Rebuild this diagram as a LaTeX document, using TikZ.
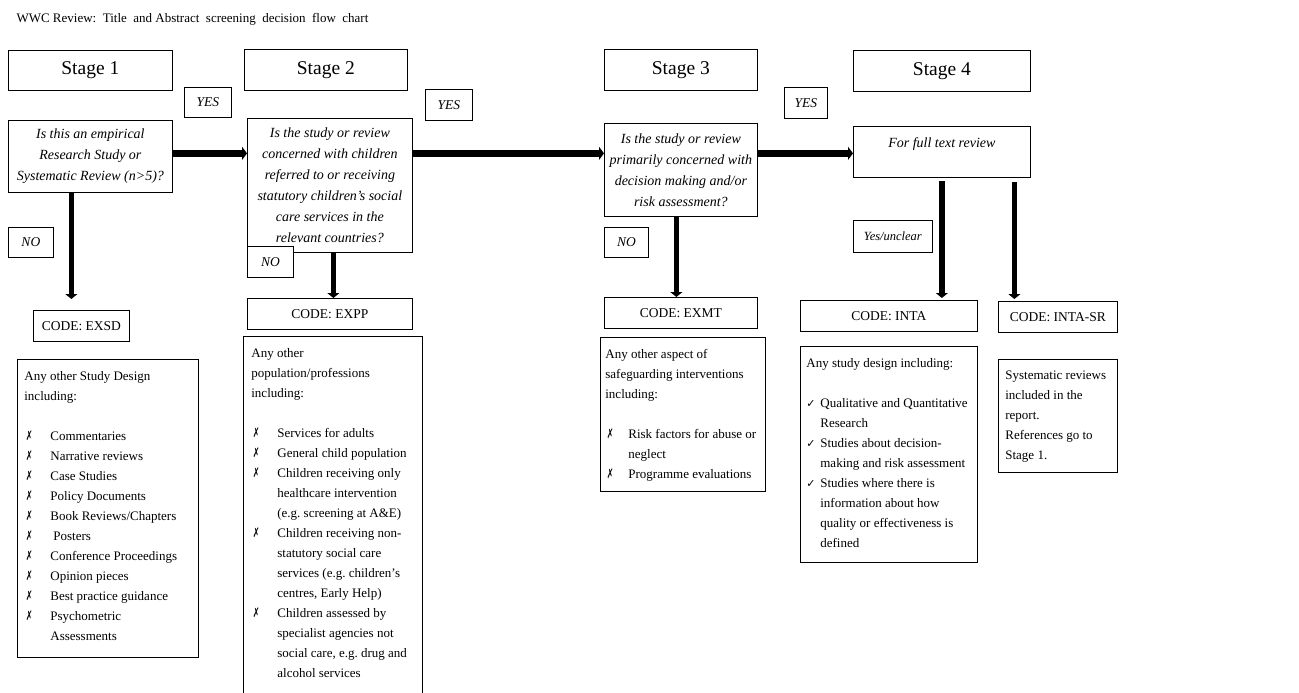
\documentclass[tikz,border=0pt]{standalone}
\usepackage{fontspec}
\setmainfont{Liberation Serif}
\newfontfamily\symfont{DejaVu Sans}
\usetikzlibrary{arrows.meta}
\frenchspacing

\newcommand{\xmark}{{\symfont\fontsize{12.5}{12.5}\selectfont\scalebox{0.65}[1.05]{✗}}}
\newcommand{\cmark}{{\symfont\fontsize{11}{11}\selectfont ✓}}
\newcommand{\xitem}[2][26pt]{\par\hangindent=#1\hangafter=1\noindent\makebox[#1][l]{\hspace{1.5pt}\xmark}#2}
\newcommand{\citem}[1]{\par\hangindent=14pt\hangafter=1\noindent\makebox[14pt][l]{\cmark}#1}
\newcommand{\listtext}[3]{\parbox[t][#2][t]{#1}{\fontsize{13}{20}\selectfont\raggedright #3}}

\tikzset{
  dims/.style 2 args={minimum width=#1pt, minimum height=#2pt},
  frame/.style={draw, fill=white, line width=0.75pt, anchor=north west, inner sep=0pt},
  stagebox/.style={frame, font=\fontsize{19.5}{22}\selectfont},
  qbox/.style={frame, align=center, font=\fontsize{14}{21}\selectfont\itshape},
  tagbox/.style={frame, font=\fontsize{13.5}{16}\selectfont\itshape},
  codebox/.style={frame, font=\fontsize{13.5}{16}\selectfont},
  listbox/.style={frame, inner xsep=#1pt, inner ysep=12pt},
  harr/.style={line width=6.5pt, -{Triangle[length=5pt,width=13pt]}},
  varr/.style={line width=5.5pt, -{Triangle[length=5pt,width=12pt]}}
}

\begin{document}
\begin{tikzpicture}[x=1pt, y=-1pt]
  \path[fill=white, use as bounding box] (0,0) rectangle (1299,693);

  \node[anchor=base west, font=\fontsize{13}{15}\selectfont] (title) at (13,23)
    {WWC Review:\ \ Title\ \ and Abstract\ \ screening\ \ decision\ \ flow\ \ chart};

  % stage headings
  \node[stagebox, dims={164}{40}] (st1) at (8,50) {Stage 1};
  \node[stagebox, dims={163}{41}] (st2) at (244,49) {Stage 2};
  \node[stagebox, dims={153}{41}] (st3) at (604,49) {Stage 3};
  \node[stagebox, dims={177}{41}] (st4) at (853,50) {Stage 4};

  % questions
  \node[qbox, dims={164}{72}] (q1) at (8,120)
    {Is this an empirical\\Research Study or\\Systematic Review (n>5)?};
  \node[qbox, dims={165}{134}] (q2) at (247,118)
    {Is the study or review\\concerned with children\\referred to or receiving\\statutory children’s social\\care services in the\\relevant countries?};
  \node[qbox, dims={153}{93}] (q3) at (604,123)
    {Is the study or review\\primarily concerned with\\decision making and/or\\risk assessment?};
  \node[frame, inner ysep=11pt, font=\fontsize{14}{21}\selectfont\itshape] (q4) at (853,126)
    {\parbox[t][29pt][t]{177pt}{\centering For full text review}};

  % yes / no labels
  \node[tagbox, dims={47}{30}] (yes1) at (184,87) {YES};
  \node[tagbox, dims={47}{31}] (yes2) at (425,89) {YES};
  \node[tagbox, dims={43}{31}] (yes3) at (784,87) {YES};
  \node[tagbox, dims={45}{30}] (no1) at (8,227) {NO};
  \node[tagbox, dims={44}{30}] (no3) at (604,227) {NO};
  \node[tagbox, dims={79}{32}, font=\fontsize{12.5}{16}\selectfont\itshape] (yesu) at (853,220) {Yes/unclear};

  % codes
  \node[codebox, dims={96}{31}] (exsd) at (33,310) {CODE: EXSD};
  \node[codebox, dims={165}{31}] (expp) at (247,298) {CODE: EXPP};
  \node[codebox, dims={153}{31}] (exmt) at (604,297) {CODE: EXMT};
  \node[codebox, dims={177}{31}] (inta) at (800,300) {CODE: INTA};
  \node[codebox, dims={119}{31}] (intasr) at (998,301) {CODE: INTA-SR};

  % lists
  \node[listbox=7] (l1) at (17,359) {\listtext{167pt}{274pt}{%
    Any other Study Design\\ including:\par\vspace{20pt}
    \xitem{Commentaries}
    \xitem{Narrative reviews}
    \xitem{Case Studies}
    \xitem{Policy Documents}
    \xitem{Book Reviews/Chapters}
    \xitem{\hspace{3pt}Posters}
    \xitem{Conference Proceedings}
    \xitem{Opinion pieces}
    \xitem{Best practice guidance}
    \xitem{Psychometric\newline Assessments}}};
  \node[listbox=8] (l2) at (243,336) {\listtext{163pt}{340pt}{%
    Any other\\ population/professions\\ including:\par\vspace{20pt}
    \xitem{Services for adults}
    \xitem{General child population}
    \xitem{Children receiving only\newline healthcare intervention\newline (e.g. screening at A\&E)}
    \xitem{Children receiving non-\newline statutory social care\newline services (e.g. children’s\newline centres, Early Help)}
    \xitem{Children assessed by\newline specialist agencies not\newline social care, e.g. drug and\newline alcohol services}}};
  \node[listbox=5] (l3) at (600,337) {\listtext{155pt}{130pt}{%
    Any other aspect of\\ safeguarding interventions\\ including:\par\vspace{20pt}
    \xitem[23pt]{Risk factors for abuse or\newline neglect}
    \xitem[23pt]{Programme evaluations}}};
  \node[listbox=6] (l4) at (800,346) {\listtext{165pt}{192pt}{%
    Any study design including:\par\vspace{20pt}
    \citem{Qualitative and Quantitative\newline Research}
    \citem{Studies about decision-\newline making and risk assessment}
    \citem{Studies where there is\newline information about how\newline quality or effectiveness is\newline defined}}};
  \node[listbox=7] (l5) at (998,359) {\listtext{105pt}{89pt}{%
    Systematic reviews\\ included in the\\ report.\\ References go to\\ Stage 1.}};

  % connectors
  \coordinate (lvl) at ([yshift=3pt]q1.east);
  \draw[harr] (lvl) -- (lvl -| q2.west);
  \draw[harr] (lvl -| q2.east) -- (lvl -| q3.west);
  \draw[harr] (lvl -| q3.east) -- (lvl -| q4.west);
  \draw[varr] ([xshift=-19pt]q1.south) -- ([xshift=-10pt,yshift=11pt]exsd.north);
  \draw[varr] ([xshift=3.5pt]q2.south) -- ([xshift=3.5pt]expp.north);
  \draw[varr] ([xshift=-4.5pt]q3.south) -- ([xshift=-4.5pt]exmt.north);
  \draw[varr] ([yshift=-3pt]q4.south) -- ([xshift=53pt,yshift=2pt]inta.north);
  \draw[varr] ([xshift=72.5pt,yshift=-4pt]q4.south) -- ([xshift=-43.5pt,yshift=2pt]intasr.north);

  % no-box drawn over the stage 2 question
  \node[tagbox, dims={46}{31}] (no2) at (247,246) {NO};
\end{tikzpicture}
\end{document}
